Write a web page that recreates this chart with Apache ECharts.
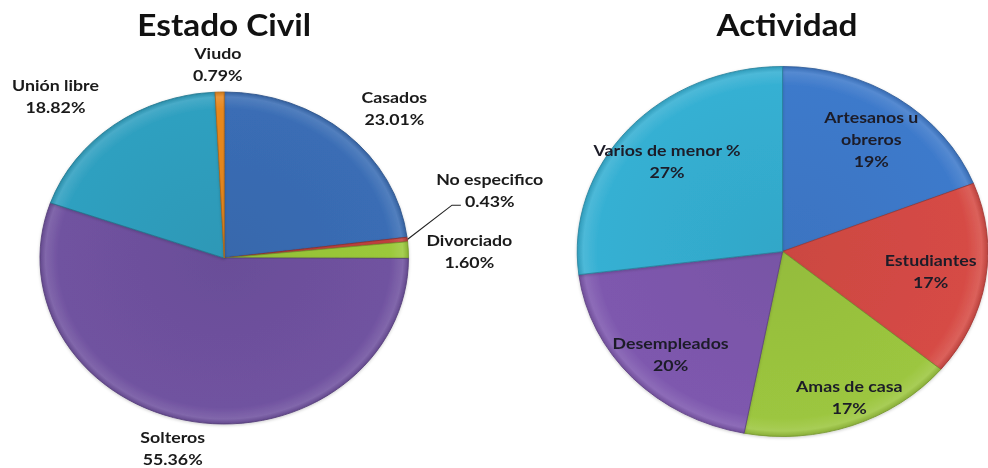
<!DOCTYPE html>
<html>
<head>
<meta charset="utf-8">
<script src="https://cdn.jsdelivr.net/npm/echarts@6/dist/echarts.min.js"></script>
<style>
html,body{margin:0;padding:0;background:#fff;overflow:hidden;}
#wrap{width:988px;height:468px;overflow:hidden;}
#chart{width:890px;height:468px;transform:scaleX(1.11);transform-origin:0 0;}
</style>
</head>
<body>
<div id="wrap"><div id="chart"></div></div>
<script>
// ---- data ----
const civilTitle = 'Estado Civil';
const civilCategories = ['Casados', 'No especifico', 'Divorciado', 'Solteros', 'Unión libre', 'Viudo'];
const civilValues = [23.01, 0.43, 1.60, 55.36, 18.82, 0.79];

const activityTitle = 'Actividad';
const activityCategories = ['Artesanos u\nobreros', 'Estudiantes', 'Amas de casa', 'Desempleados', 'Varios de menor %'];
const activityValues = [19, 17, 17, 20, 27];

// ---- style / layout (chart is drawn 890 wide and stretched 1.11x horizontally, like the original) ----
const civilColors = ['#3A6DB5', '#C0413D', '#9BC93A', '#7052A0', '#2FA0C0', '#E8881E'];
const activityColors = ['#3E7ACB', '#D64B45', '#9CC63F', '#7E58AE', '#35B0D3'];
const civilCenter = [202, 258], civilRadius = 166;
const actCenter = [705, 251.5], actRadius = 185;
// label placement: radial factor + pixel nudges
const civilLabelPlace = [
  {f: 1.25, dx: 16, dy: 5},
  {f: 1.45, dx: 0, dy: -41},
  {f: 1.35, dx: -3, dy: 4},
  {f: 1.15, dx: -14, dy: 2},
  {f: 1.30, dx: -23, dy: 11},
  {f: 1.15, dx: -1, dy: -3}
];
const actLabelPlace = [
  {f: 0.73, dx: 4, dy: -1},
  {f: 0.73, dx: 0, dy: -2},
  {f: 0.80, dx: 10, dy: 6},
  {f: 0.77, dx: 3, dy: 5},
  {f: 0.75, dx: 0, dy: 1}
];
const FONT = 'Lato, "Open Sans", sans-serif';

function hexToRgb(h){h=h.replace('#','');return [parseInt(h.substr(0,2),16),parseInt(h.substr(2,2),16),parseInt(h.substr(4,2),16)];}
function mix(h, t, a){const c=hexToRgb(h);return 'rgb('+c.map((v,i)=>Math.round(v+(t[i]-v)*a)).join(',')+')';}
function fill(col, center, r){
  return {
    type: 'radial', x: center[0], y: center[1], r: r, global: true,
    colorStops: [
      {offset: 0, color: mix(col,[0,0,0],0.05)},
      {offset: 0.9, color: col},
      {offset: 0.97, color: mix(col,[255,255,255],0.12)},
      {offset: 1, color: mix(col,[0,0,0],0.12)}
    ]
  };
}
function midAngles(values){
  const total = values.reduce((a,b)=>a+b,0);
  let acc = 0;
  return values.map(v=>{const m=(acc+v/2)/total*360; acc+=v; return m;});
}
const civilMid = midAngles(civilValues);
const actMid = midAngles(activityValues);

function place(center, r, mid, p){
  const a = mid*Math.PI/180;
  return [center[0] + Math.sin(a)*r*p.f + p.dx, center[1] - Math.cos(a)*r*p.f + p.dy];
}

const chart = echarts.init(document.getElementById('chart'), null, {renderer: 'svg', width: 890, height: 468});

const civilData = civilCategories.map((n,i)=>({
  name: n, value: civilValues[i],
  itemStyle: {color: fill(civilColors[i], civilCenter, civilRadius), borderColor: mix(civilColors[i],[0,0,0],0.25)},
  labelLine: {show: i === 1, lineStyle: {color: '#222', width: 1}}
}));
const actData = activityCategories.map((n,i)=>({
  name: n, value: activityValues[i],
  itemStyle: {color: fill(activityColors[i], actCenter, actRadius), borderColor: mix(activityColors[i],[0,0,0],0.25)}
}));

chart.setOption({
  animation: false,
  backgroundColor: '#ffffff',
  title: [
    {text: civilTitle, left: civilCenter[0] - 5, top: 5, textAlign: 'center',
     textStyle: {fontFamily: FONT, fontWeight: 'bold', fontSize: 30, color: '#111'}},
    {text: activityTitle, left: actCenter[0] - 1, top: 5, textAlign: 'center',
     textStyle: {fontFamily: FONT, fontWeight: 'bold', fontSize: 30, color: '#111'}}
  ],
  series: [
    {
      type: 'pie', center: civilCenter, radius: civilRadius, startAngle: 90, clockwise: true,
      avoidLabelOverlap: false,
      itemStyle: {borderWidth: 0.8, shadowBlur: 3, shadowColor: 'rgba(0,0,0,0.2)', shadowOffsetY: 1},
      label: {
        show: true, position: 'outside',
        fontFamily: FONT, fontWeight: 'bold', fontSize: 16, color: '#1a1a1a', lineHeight: 22,
        formatter: p => p.name + '\n' + p.value.toFixed(2) + '%'
      },
      labelLine: {length: 10, length2: 10},
      labelLayout: function(params){
        const i = params.dataIndex;
        const pt = place(civilCenter, civilRadius, civilMid[i], civilLabelPlace[i]);
        const out = {x: pt[0], y: pt[1], align: 'center', verticalAlign: 'middle'};
        if (i === 1) {
          const a = civilMid[i]*Math.PI/180;
          const s = [civilCenter[0]+Math.sin(a)*civilRadius, civilCenter[1]-Math.cos(a)*civilRadius];
          const e = [pt[0]-26, pt[1]+15];
          out.labelLinePoints = [s, [e[0]-8, e[1]], e];
        }
        return out;
      },
      data: civilData
    },
    {
      type: 'pie', center: actCenter, radius: actRadius, startAngle: 90, clockwise: true,
      avoidLabelOverlap: false,
      itemStyle: {borderWidth: 0.8, shadowBlur: 3, shadowColor: 'rgba(0,0,0,0.2)', shadowOffsetY: 1},
      label: {
        show: true, position: 'inside',
        fontFamily: FONT, fontWeight: 'bold', fontSize: 16, color: '#1c1c28', lineHeight: 22,
        formatter: p => p.name + '\n' + p.value + '%'
      },
      labelLine: {show: false},
      labelLayout: function(params){
        const i = params.dataIndex;
        const pt = place(actCenter, actRadius, actMid[i], actLabelPlace[i]);
        return {x: pt[0], y: pt[1], align: 'center', verticalAlign: 'middle'};
      },
      data: actData
    }
  ]
});
</script>
</body>
</html>
